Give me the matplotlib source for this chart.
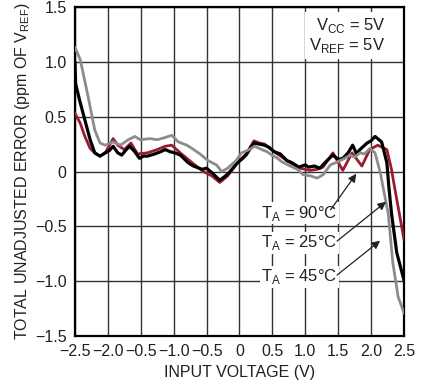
import matplotlib
matplotlib.use("Agg")
import matplotlib.pyplot as plt
import numpy as np

plt.rcParams['font.family'] = ['Liberation Sans Narrow', 'Liberation Sans', 'DejaVu Sans']
plt.rcParams['mathtext.fontset'] = 'custom'
plt.rcParams['mathtext.rm'] = 'Liberation Sans Narrow'

# 25°C (black)
x_25 = [-2.50, -2.49, -2.43, -2.35, -2.27, -2.20, -2.12, -2.04, -1.98, -1.92, -1.85, -1.79,
        -1.72, -1.67, -1.59, -1.52, -1.46, -1.40, -1.29, -1.20, -1.13, -1.05, -0.98, -0.90,
        -0.78, -0.70, -0.57, -0.50, -0.42, -0.30, -0.19, -0.10, -0.03, 0.05, 0.10, 0.22,
        0.30, 0.38, 0.45, 0.53, 0.62, 0.72, 0.80, 0.90, 1.00, 1.05, 1.14, 1.22,
        1.33, 1.42, 1.50, 1.57, 1.65, 1.72, 1.78, 1.83, 1.94, 2.00, 2.06, 2.16, 2.24,
        2.27, 2.31, 2.39, 2.50]
y_25 = [0.99, 0.80, 0.65, 0.47, 0.29, 0.17, 0.14, 0.17, 0.19, 0.23, 0.17, 0.15,
        0.20, 0.23, 0.18, 0.12, 0.14, 0.14, 0.16, 0.18, 0.20, 0.18, 0.17, 0.15,
        0.08, 0.05, 0.02, 0.03, -0.01, -0.08, -0.03, 0.03, 0.08, 0.12, 0.15, 0.26,
        0.25, 0.24, 0.22, 0.18, 0.16, 0.10, 0.08, 0.04, 0.06, 0.04, 0.05, 0.03,
        0.10, 0.15, 0.11, 0.12, 0.17, 0.24, 0.16, 0.20, 0.26, 0.28, 0.32, 0.27, 0.08,
        -0.14, -0.38, -0.74, -0.99]

# 45°C (gray)
x_45 = [-2.50, -2.42, -2.30, -2.20, -2.12, -2.04, -1.92, -1.81, -1.69, -1.59, -1.51,
        -1.36, -1.25, -1.13, -1.03, -0.93, -0.80, -0.72, -0.60, -0.48, -0.35, -0.27,
        -0.18, -0.05, 0.03, 0.15, 0.23, 0.34, 0.42, 0.49, 0.58, 0.64, 0.77, 0.88,
        0.97, 1.08, 1.18, 1.27, 1.38, 1.46, 1.53, 1.60, 1.68, 1.75, 1.83, 1.90, 1.98,
        2.06, 2.14, 2.21, 2.26, 2.33, 2.41, 2.50]
y_45 = [1.13, 1.02, 0.68, 0.38, 0.26, 0.24, 0.27, 0.24, 0.29, 0.32, 0.29,
        0.30, 0.29, 0.31, 0.33, 0.27, 0.24, 0.21, 0.16, 0.10, 0.06, 0.00,
        0.03, 0.10, 0.17, 0.20, 0.23, 0.20, 0.18, 0.15, 0.12, 0.09, 0.05, 0.02,
        -0.03, -0.04, -0.06, -0.03, 0.06, 0.08, 0.10, 0.12, 0.15, 0.13, 0.17, 0.16, 0.21,
        0.17, -0.01, -0.23, -0.38, -0.83, -1.14, -1.29]

# 90°C (dark red)
x_90 = [-2.50, -2.42, -2.35, -2.27, -2.20, -2.12, -2.04, -1.92, -1.85, -1.75, -1.65,
        -1.55, -1.40, -1.25, -1.13, -1.03, -0.90, -0.70, -0.55, -0.42, -0.30, -0.18,
        -0.03, 0.10, 0.22, 0.30, 0.38, 0.55, 0.65, 0.77, 0.92, 1.07, 1.18, 1.27, 1.42,
        1.57, 1.71, 1.86, 1.98, 2.10, 2.24, 2.31, 2.35, 2.50]
y_90 = [0.53, 0.44, 0.32, 0.21, 0.17, 0.14, 0.17, 0.30, 0.24, 0.20, 0.26,
        0.16, 0.17, 0.20, 0.23, 0.24, 0.17, 0.07, 0.00, -0.04, -0.10, -0.04,
        0.08, 0.16, 0.28, 0.26, 0.25, 0.17, 0.13, 0.08, 0.03, 0.01, 0.02, 0.04, 0.17,
        0.01, 0.17, 0.05, 0.20, 0.24, 0.20, 0.02, -0.12, -0.62]

xticks = [-2.5, -2.0, -1.5, -1.0, -0.5, 0, 0.5, 1.0, 1.5, 2.0, 2.5]
xtick_labels = ['\u22122.5', '\u22122.0', '\u22120.5', '\u22121.0', '\u22120.5', '0',
                '0.5', '1.0', '1.5', '2.0', '2.5']
yticks = [-1.5, -1.0, -0.5, 0, 0.5, 1.0, 1.5]
ytick_labels = ['\u22121.5', '\u22121.0', '\u22120.5', '0', '0.5', '1.0', '1.5']

txt = '#231f20'

fig = plt.figure(figsize=(4.35, 3.89), dpi=100)
ax = fig.add_axes([0.1724, 0.1362, 0.7563, 0.8458])

ax.plot(x_90, y_90, color='#9b1b30', lw=2.0, zorder=3)
ax.plot(x_25, y_25, color='black', lw=2.3, zorder=4)
ax.plot(x_45, y_45, color='#8c8c8c', lw=2.0, zorder=5)

ax.set_xlim(-2.5, 2.5)
ax.set_ylim(-1.5, 1.5)
ax.set_xticks(xticks)
ax.set_xticklabels(xtick_labels)
ax.set_yticks(yticks)
ax.set_yticklabels(ytick_labels)
ax.tick_params(length=0, labelsize=11.5, colors=txt, pad=6)
ax.grid(True, color='#333333', lw=1.0)
ax.set_axisbelow(True)
for s in ax.spines.values():
    s.set_linewidth(1.6)
    s.set_color('black')

ax.set_xlabel('INPUT VOLTAGE (V)', fontsize=11.5, color=txt, labelpad=4)
ax.set_ylabel('TOTAL UNADJUSTED ERROR (ppm OF V$_{\\mathregular{REF}}$)', fontsize=11.5,
              color=txt, labelpad=2)

ax.text(2.22, 1.24, 'V$_{\\mathregular{CC}}$ = 5V\nV$_{\\mathregular{REF}}$ = 5V',
        ha='right', va='center', fontsize=12, color=txt, linespacing=1.1,
        bbox=dict(facecolor='white', edgecolor='none', pad=3), zorder=6)

bb = dict(facecolor='white', edgecolor='none', pad=1)
ax.text(0.33, -0.38, 'T$_{\\mathregular{A}}$ = 90\u00b0C', fontsize=12, color=txt,
        va='center', bbox=bb, zorder=6)
ax.text(0.33, -0.65, 'T$_{\\mathregular{A}}$ = 25\u00b0C', fontsize=12, color=txt,
        va='center', bbox=bb, zorder=6)
ax.text(0.33, -0.96, 'T$_{\\mathregular{A}}$ = 45\u00b0C', fontsize=12, color=txt,
        va='center', bbox=bb, zorder=6)

ap = dict(arrowstyle='-|>', color='#231f20', lw=0.9, mutation_scale=12)
ax.annotate('', xy=(1.80, 0.0), xytext=(1.36, -0.37), arrowprops=ap, zorder=7)
ax.annotate('', xy=(2.26, -0.26), xytext=(1.45, -0.65), arrowprops=ap, zorder=7)
ax.annotate('', xy=(2.17, -0.615), xytext=(1.45, -0.96), arrowprops=ap, zorder=7)

fig.savefig('out.png', dpi=100)
